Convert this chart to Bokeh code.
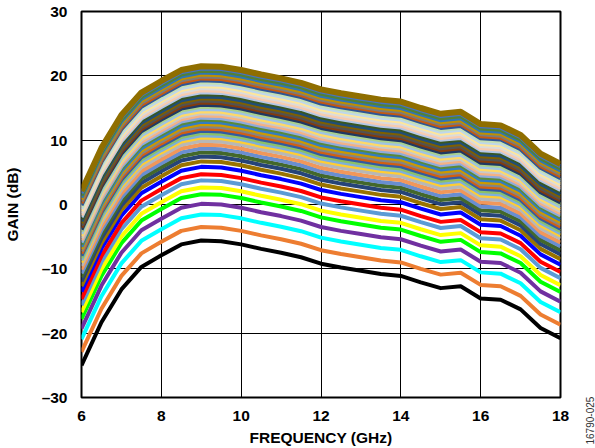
from bokeh.plotting import figure
from bokeh.models import Range1d, FixedTicker
from bokeh.layouts import row
from bokeh.core.properties import value
from bokeh.embed import file_html
from bokeh.resources import INLINE

# Frequency points (GHz)
freq = [6.0, 6.5, 7.0, 7.5, 8.0, 8.5, 9.0, 9.5, 10.0, 10.5, 11.0, 11.5, 12.0,
        12.5, 13.0, 13.5, 14.0, 14.5, 15.0, 15.5, 16.0, 16.5, 17.0, 17.5, 18.0]

# Lowest-gain curve (dB)
lowest_curve = [-25.0, -18.3, -13.2, -9.7, -7.9, -6.2, -5.6, -5.7, -6.2, -6.9, -7.5,
                -8.2, -9.2, -9.8, -10.3, -10.8, -11.1, -12.1, -13.0, -12.7, -14.6,
                -14.8, -16.3, -19.2, -20.8]

# Gain of each curve at 9 GHz (dB), bottom to top
gain_at_9ghz = [-5.6, -3.5, -1.55, 0.1, 1.6, 2.65, 3.75, 4.7, 5.85, 6.7, 7.45, 8.1,
                8.7, 9.3, 9.9,
                10.4, 10.75, 11.1, 11.45, 11.8, 12.15, 12.5, 12.85, 13.2, 13.5,
                13.85, 14.2, 14.5, 14.85, 15.2, 15.5, 15.85, 16.15, 16.5, 16.8,
                17.15, 17.45, 17.75, 18.1, 18.4, 18.7, 19.0, 19.3, 19.6, 19.9,
                20.2, 20.5, 20.8, 21.15, 21.5]

colors = ["#000000", "#ED7D31", "#00FFFF", "#7030A0", "#00FF00", "#FFFF00",
          "#5B9BD5", "#FF0000", "#0000FF", "#997300", "#264478", "#43682B",
          "#698ED0", "#F1975A", "#B7B7B7", "#FFCD33", "#7CAFDD", "#8CC168",
          "#335AA1", "#D26012", "#848484", "#CC9A00", "#327DC2", "#5A8A39",
          "#8FAADC", "#F4B183", "#C9C9C9", "#FFD966", "#9DC3E6", "#A9D18E",
          "#203864", "#843C0C", "#525252", "#7F6000", "#1F4E79", "#385723",
          "#B4C7E7", "#F8CBAD", "#DBDBDB", "#FFE699", "#BDD7EE", "#C5E0B4",
          "#2F5597", "#C55A11", "#7B7B7B", "#BF9000", "#2E75B6", "#538135",
          "#4472C4", "#8F6E00"]

x_ticks = [6, 8, 10, 12, 14, 16, 18]
y_ticks = [-30, -20, -10, 0, 10, 20, 30]
y_tick_labels = {-30: "\u201330", -20: "\u201320", -10: "\u201310"}
figure_code = ["16790-025"]

FONT = "Liberation Sans"

p = figure(width=572, height=448, output_backend="svg", toolbar_location=None,
           x_range=Range1d(6, 18), y_range=Range1d(-30, 30),
           min_border_left=79, min_border_right=12, min_border_top=11,
           min_border_bottom=51)
p.background_fill_color = "white"
p.border_fill_color = "white"
p.outline_line_color = "black"
p.outline_line_width = 2

p.xaxis.ticker = FixedTicker(ticks=x_ticks)
p.yaxis.ticker = FixedTicker(ticks=y_ticks)
p.yaxis.major_label_overrides = y_tick_labels
p.xaxis.axis_label = "FREQUENCY (GHz)"
p.yaxis.axis_label = "GAIN (dB)"
for ax in p.axis:
    ax.axis_line_color = None
    ax.major_tick_line_color = None
    ax.minor_tick_line_color = None
    ax.major_label_text_font = FONT
    ax.major_label_text_font_style = "bold"
    ax.major_label_text_font_size = "15.5px"
    ax.major_label_text_color = "black"
    ax.axis_label_text_font = FONT
    ax.axis_label_text_font_style = "bold"
    ax.axis_label_text_font_size = "15.5px"
    ax.axis_label_text_color = "black"
p.yaxis.major_label_standoff = 8
p.yaxis.axis_label_standoff = 18
p.xaxis.major_label_standoff = 7
p.xaxis.axis_label_standoff = 5

for g in (p.xgrid, p.ygrid):
    g.grid_line_color = "black"
    g.grid_line_width = 1
    g.grid_line_alpha = 1.0

ref = lowest_curve[freq.index(9.0)]
n = len(gain_at_9ghz)
for i, (lvl, c) in enumerate(zip(gain_at_9ghz, colors)):
    ys = [v - ref + lvl for v in lowest_curve]
    w = 6 if i == n - 1 else 4
    p.line(freq, ys, line_color=c, line_width=w, line_join="round")

# narrow side panel holding the figure code text
side = figure(width=23, height=448, output_backend="svg", toolbar_location=None,
              x_range=Range1d(0, 23), y_range=Range1d(0, 448),
              x_axis_type=None, y_axis_type=None,
              min_border_left=0, min_border_right=0, min_border_top=0,
              min_border_bottom=0)
try:
    side.frame_align = False
except Exception:
    pass
side.grid.visible = False
side.outline_line_color = None
side.background_fill_color = "white"
side.border_fill_color = "white"
side.text(x=[17], y=[4], text=figure_code, angle=1.5707963,
          text_font=value(FONT), text_font_size="10px", text_color="#333333",
          text_baseline="middle", text_align="left")

layout = row(p, side, spacing=0)
open("out.html", "w").write(file_html(layout, INLINE))
